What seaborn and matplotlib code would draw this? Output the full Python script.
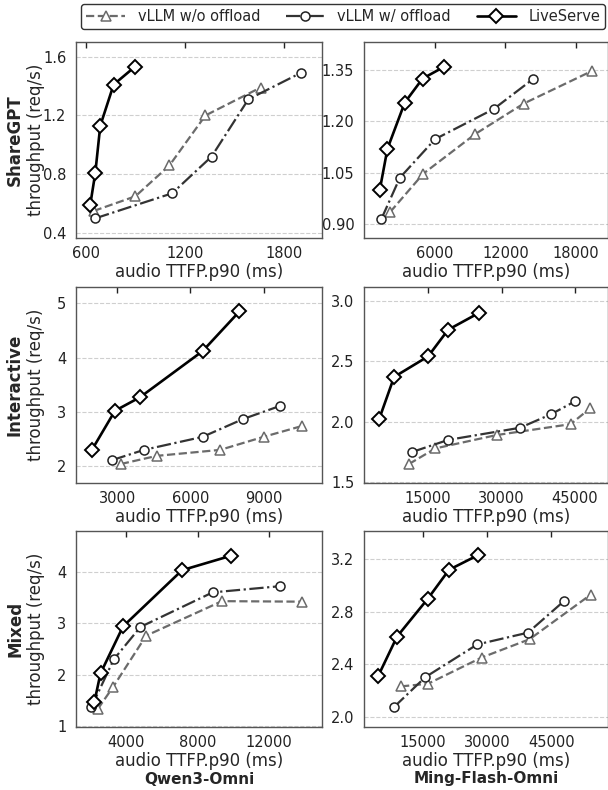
import pandas as pd
import seaborn as sns
import matplotlib.pyplot as plt
from matplotlib.lines import Line2D

# --- data ---
series_names = ['vLLM w/o offload', 'vLLM w/ offload', 'LiveServe']
row_names = ['ShareGPT', 'Interactive', 'Mixed']
col_names = ['Qwen3-Omni', 'Ming-Flash-Omni']

# ShareGPT / Qwen3-Omni
sg_qwen_wo_x = [647, 900, 1106, 1324, 1658]
sg_qwen_wo_y = [0.55, 0.65, 0.86, 1.20, 1.39]
sg_qwen_w_x = [657, 1122, 1361, 1584, 1902]
sg_qwen_w_y = [0.50, 0.67, 0.92, 1.31, 1.49]
sg_qwen_ls_x = [626, 657, 687, 768, 895]
sg_qwen_ls_y = [0.59, 0.81, 1.13, 1.41, 1.53]

# ShareGPT / Ming-Flash-Omni
sg_ming_wo_x = [2220, 5030, 9440, 13550, 19320]
sg_ming_wo_y = [0.935, 1.047, 1.163, 1.252, 1.347]
sg_ming_w_x = [1480, 3040, 6030, 11000, 14350]
sg_ming_w_y = [0.915, 1.035, 1.148, 1.236, 1.324]
sg_ming_ls_x = [1340, 1990, 3460, 4970, 6820]
sg_ming_ls_y = [1.00, 1.12, 1.255, 1.325, 1.36]

# Interactive / Qwen3-Omni
in_qwen_wo_x = [3140, 4620, 7220, 9000, 10580]
in_qwen_wo_y = [2.04, 2.19, 2.30, 2.54, 2.74]
in_qwen_w_x = [2770, 4090, 6500, 8170, 9680]
in_qwen_w_y = [2.11, 2.30, 2.54, 2.87, 3.11]
in_qwen_ls_x = [1940, 2900, 3930, 6500, 8010]
in_qwen_ls_y = [2.29, 3.02, 3.27, 4.12, 4.85]

# Interactive / Ming-Flash-Omni
in_ming_wo_x = [11050, 16500, 28980, 44110, 48070]
in_ming_wo_y = [1.65, 1.78, 1.89, 1.98, 2.11]
in_ming_w_x = [11730, 19090, 33750, 40020, 45070]
in_ming_w_y = [1.75, 1.85, 1.95, 2.06, 2.17]
in_ming_ls_x = [4980, 8050, 15000, 19090, 25430]
in_ming_ls_y = [2.02, 2.37, 2.54, 2.76, 2.90]

# Mixed / Qwen3-Omni
mx_qwen_wo_x = [2420, 3280, 5120, 9360, 13820]
mx_qwen_wo_y = [1.34, 1.77, 2.76, 3.43, 3.42]
mx_qwen_w_x = [2050, 3310, 4800, 8840, 12610]
mx_qwen_w_y = [1.37, 2.30, 2.93, 3.60, 3.72]
mx_qwen_ls_x = [2230, 2570, 3830, 7130, 9860]
mx_qwen_ls_y = [1.48, 2.03, 2.94, 4.03, 4.31]

# Mixed / Ming-Flash-Omni
mx_ming_wo_x = [9870, 16160, 28720, 39950, 54240]
mx_ming_wo_y = [2.23, 2.25, 2.45, 2.59, 2.93]
mx_ming_w_x = [8150, 15530, 27700, 39560, 47960]
mx_ming_w_y = [2.07, 2.30, 2.55, 2.64, 2.88]
mx_ming_ls_x = [4530, 8930, 16160, 21100, 27780]
mx_ming_ls_y = [2.31, 2.61, 2.90, 3.12, 3.23]

# tick labels per panel
sg_qwen_xticks = ['600', '1200', '1800']
sg_qwen_yticks = ['0.4', '0.8', '1.2', '1.6']
sg_ming_xticks = ['6000', '12000', '18000']
sg_ming_yticks = ['0.90', '1.05', '1.20', '1.35']
in_qwen_xticks = ['3000', '6000', '9000']
in_qwen_yticks = ['2', '3', '4', '5']
in_ming_xticks = ['15000', '30000', '45000']
in_ming_yticks = ['1.5', '2.0', '2.5', '3.0']
mx_qwen_xticks = ['4000', '8000', '12000']
mx_qwen_yticks = ['1', '2', '3', '4']
mx_ming_xticks = ['15000', '30000', '45000']
mx_ming_yticks = ['2.0', '2.4', '2.8', '3.2']

panels = [
    [(sg_qwen_wo_x, sg_qwen_wo_y, sg_qwen_w_x, sg_qwen_w_y, sg_qwen_ls_x, sg_qwen_ls_y,
      sg_qwen_xticks, sg_qwen_yticks, (540, 2030), (0.366, 1.70)),
     (sg_ming_wo_x, sg_ming_wo_y, sg_ming_w_x, sg_ming_w_y, sg_ming_ls_x, sg_ming_ls_y,
      sg_ming_xticks, sg_ming_yticks, (0, 20700), (0.859, 1.432))],
    [(in_qwen_wo_x, in_qwen_wo_y, in_qwen_w_x, in_qwen_w_y, in_qwen_ls_x, in_qwen_ls_y,
      in_qwen_xticks, in_qwen_yticks, (1300, 11400), (1.69, 5.30)),
     (in_ming_wo_x, in_ming_wo_y, in_ming_w_x, in_ming_w_y, in_ming_ls_x, in_ming_ls_y,
      in_ming_xticks, in_ming_yticks, (1900, 51750), (1.494, 3.113))],
    [(mx_qwen_wo_x, mx_qwen_wo_y, mx_qwen_w_x, mx_qwen_w_y, mx_qwen_ls_x, mx_qwen_ls_y,
      mx_qwen_xticks, mx_qwen_yticks, (1200, 14950), (0.99, 4.79)),
     (mx_ming_wo_x, mx_ming_wo_y, mx_ming_w_x, mx_ming_w_y, mx_ming_ls_x, mx_ming_ls_y,
      mx_ming_xticks, mx_ming_yticks, (1200, 58300), (1.92, 3.416))],
]

# line styles for the three systems
styles = {
    'vLLM w/o offload': dict(color='#6b6b6b', linestyle='--', linewidth=1.6, marker='^',
                             markersize=7, markerfacecolor='white', markeredgecolor='#6b6b6b',
                             markeredgewidth=1.1),
    'vLLM w/ offload': dict(color='#333333', linestyle='-.', linewidth=1.6, marker='o',
                            markersize=6.5, markerfacecolor='white', markeredgecolor='#222222',
                            markeredgewidth=1.1),
    'LiveServe': dict(color='black', linestyle='-', linewidth=1.9, marker='D',
                      markersize=7, markerfacecolor='white', markeredgecolor='black',
                      markeredgewidth=1.4),
}

sns.set_style('white')
plt.rcParams['font.family'] = ['DejaVu Sans']

fig = plt.figure(figsize=(6.08, 7.90), dpi=100)

col_left = [76 / 608, 364 / 608]
col_width = [246 / 608, 244 / 608]
row_top_px = [42, 287, 531]
row_h_px = 196

for r in range(3):
    for c in range(2):
        (wo_x, wo_y, w_x, w_y, ls_x, ls_y, xt, yt, xlim, ylim) = panels[r][c]
        bottom = 1 - (row_top_px[r] + row_h_px) / 790
        ax = fig.add_axes([col_left[c], bottom, col_width[c], row_h_px / 790])
        df = pd.DataFrame({
            'x': wo_x + w_x + ls_x,
            'y': wo_y + w_y + ls_y,
            'system': [series_names[0]] * len(wo_x) + [series_names[1]] * len(w_x)
                      + [series_names[2]] * len(ls_x),
        })
        for name in series_names:
            sns.lineplot(data=df[df['system'] == name], x='x', y='y', ax=ax,
                         sort=False, estimator=None, errorbar=None, **styles[name])
        ax.set_xlim(*xlim)
        ax.set_ylim(*ylim)
        ax.set_xticks([float(t) for t in xt])
        ax.set_xticklabels(xt)
        ax.set_yticks([float(t) for t in yt])
        ax.set_yticklabels(yt)
        ax.tick_params(direction='in', top=True, labelsize=10.5, length=4, width=1,
                       colors='#222222')
        ax.tick_params(axis='x', pad=6)
        ax.tick_params(axis='y', pad=7)
        ax.grid(axis='y', linestyle='--', color='#cfcfcf', linewidth=0.8)
        ax.set_axisbelow(True)
        for sp in ax.spines.values():
            sp.set_color('#555555')
            sp.set_linewidth(1.0)
        ax.set_xlabel('audio TTFP.p90 (ms)', fontsize=12)
        ax.xaxis.set_label_coords(0.5, -0.13)
        if c == 0:
            ax.set_ylabel('throughput (req/s)', fontsize=12)
            ax.yaxis.set_label_coords(-0.128, 0.5)
            ycen = 1 - (row_top_px[r] + row_h_px / 2) / 790
            fig.text(15 / 608, ycen, row_names[r], rotation=90, fontsize=12,
                     fontweight='bold', ha='center', va='center')
        else:
            ax.set_ylabel('')

# column titles under the bottom row
for c in range(2):
    fig.text(col_left[c] + col_width[c] / 2, 1 - 779 / 790, col_names[c],
             fontsize=11, fontweight='bold', ha='center', va='center')

handles = [Line2D([0], [0], **styles[n]) for n in series_names]
fig.legend(handles, series_names, loc='upper center', bbox_to_anchor=(343 / 608, 1.004),
           ncol=3, fontsize=10.5, frameon=True, fancybox=True, edgecolor='black',
           handlelength=2.7, columnspacing=1.75, borderpad=0.35, handletextpad=0.85)

fig.savefig('out.png', dpi=100)
